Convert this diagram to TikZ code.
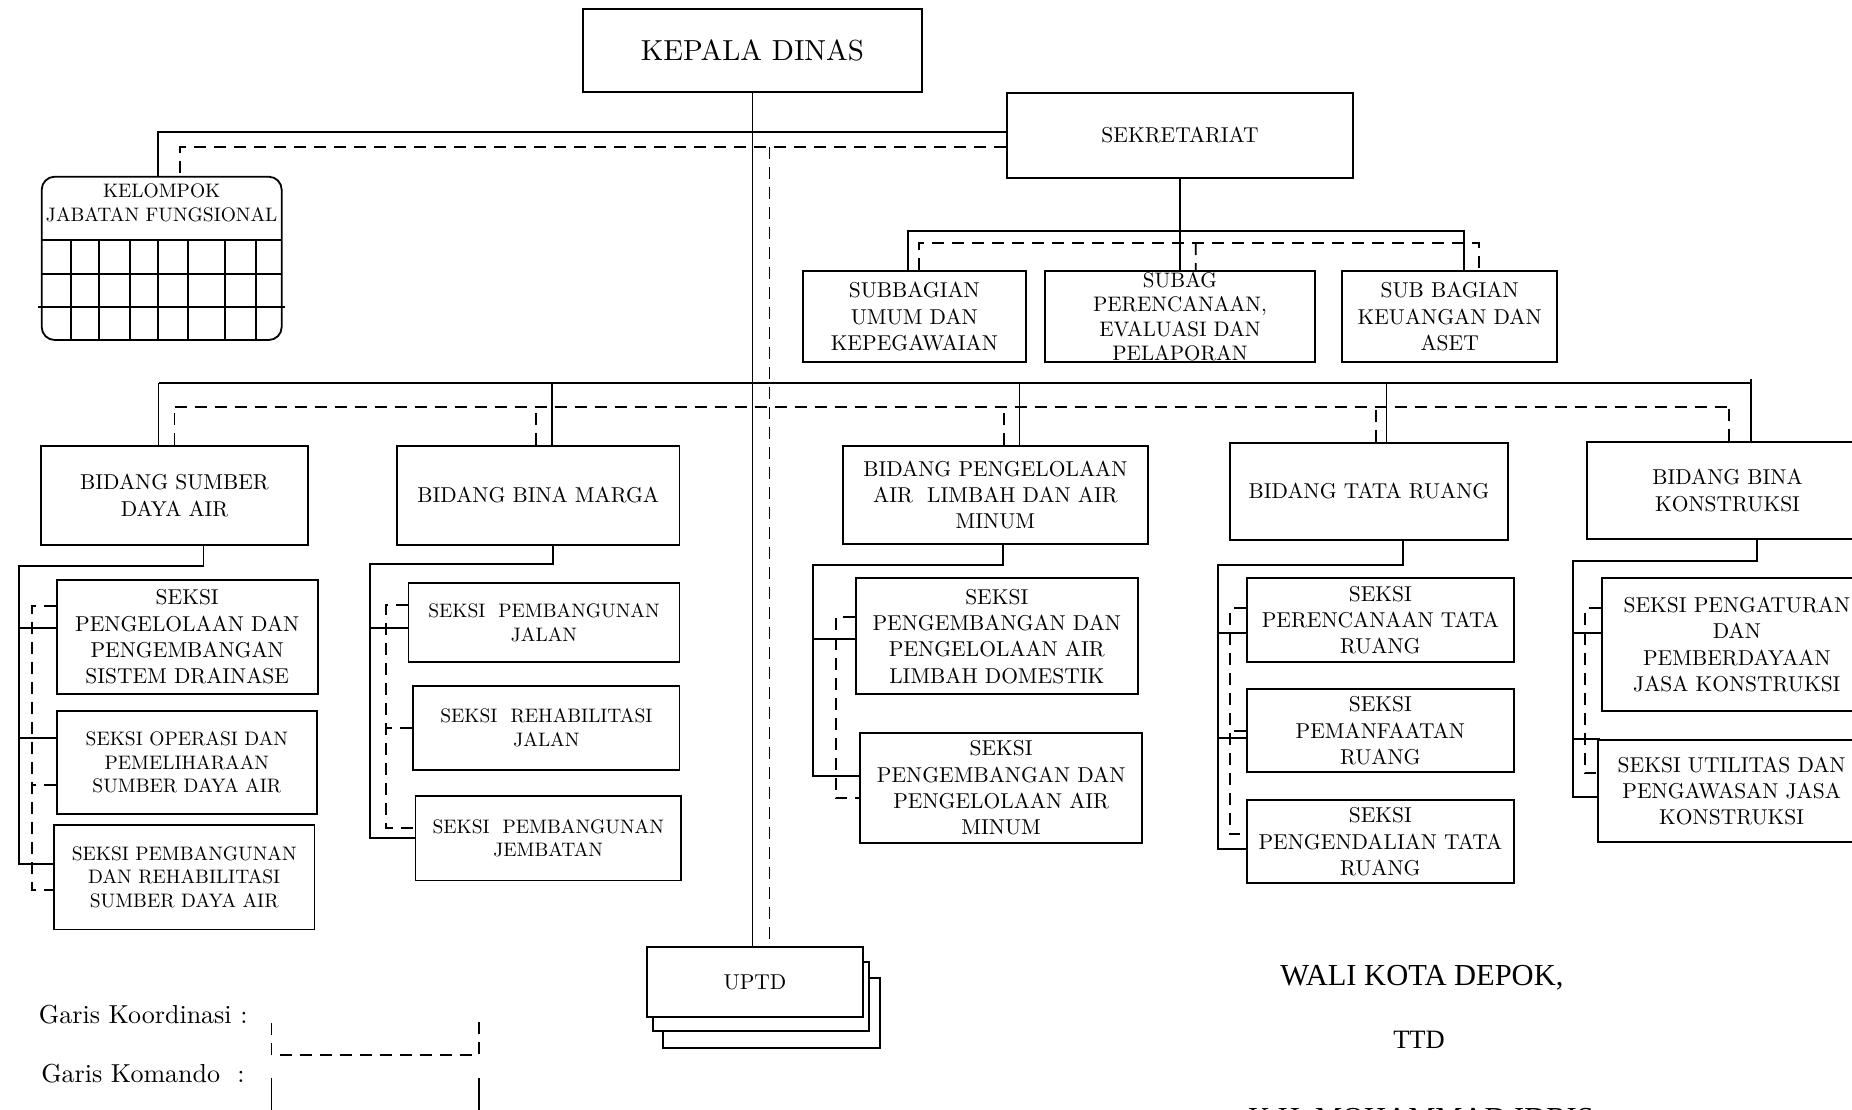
\documentclass[tikz,border=0pt]{standalone}
\usepackage{fontspec}
\setmainfont{lmroman10-regular.otf}
\newfontfamily\ttdfont{Liberation Serif}
\usetikzlibrary{calc}

\begin{document}
\begin{tikzpicture}[x=1pt, y=-1pt, line width=1.8pt,
    box/.style={draw, fill=white, align=center, inner sep=0pt,
        font=\fontsize{21.5}{26.3}\selectfont},
    smallbox/.style={box, font=\fontsize{19.5}{23.5}\selectfont},
    koord/.style={dash pattern=on 12pt off 8pt}]

    \fill[white] (0,0) rectangle (1852,1109);
    \useasboundingbox (0,0) rectangle (1852,1109);
    \clip (0,0) rectangle (1852,1109);

    \node[box, minimum width=339pt, minimum height=83pt, font=\fontsize{29}{34}\selectfont] (kd) at (752.5,50.5) {KEPALA DINAS};
    \node[box, minimum width=346pt, minimum height=85pt] (sek) at (1180,135.5) {SEKRETARIAT};
    \node[draw, rounded corners=13pt, minimum width=240pt, minimum height=163.3pt] (kjf) at (161.7,258.35) {};
    \node[align=center, font=\fontsize{19.5}{23.7}\selectfont] (kjft) at (161.7,203) {KELOMPOK\\JABATAN FUNGSIONAL};
    \foreach \gy in {240,274.3}
        \draw (41.7,\gy) -- (281.7,\gy);
    \draw (38.3,307.3) -- (285,307.3);
    \foreach \gx in {70.7,99.3,130,157.7,188,225,255.7}
        \draw (\gx,240) -- (\gx,340);

    \node[box, minimum width=223.4pt, minimum height=91.3pt] (sb1) at (914.3,316.65) {SUBBAGIAN\\UMUM DAN\\KEPEGAWAIAN};
    \node[box, minimum width=270.7pt, minimum height=91.3pt, font=\fontsize{21}{24.5}\selectfont] (sb2) at (1179.95,316.65) {SUBAG\\PERENCANAAN,\\EVALUASI DAN\\PELAPORAN};
    \node[box, minimum width=215.3pt, minimum height=91.3pt] (sb3) at (1449.65,316.65) {SUB BAGIAN\\KEUANGAN DAN\\ASET};

    \node[box, minimum width=267pt, minimum height=99pt] (bsda) at (174.5,495.5) {BIDANG SUMBER\\DAYA AIR};
    \node[box, minimum width=282.5pt, minimum height=99pt] (bbm) at (538.25,495.5) {BIDANG BINA MARGA};
    \node[box, minimum width=304.8pt, minimum height=98.3pt] (bpal) at (995.4,495.15) {BIDANG PENGELOLAAN\\AIR~~LIMBAH DAN AIR\\MINUM};
    \node[box, minimum width=278pt, minimum height=97.3pt] (btr) at (1369,491.35) {BIDANG TATA RUANG};
    \node[box, minimum width=281.6pt, minimum height=97.6pt] (bbk) at (1727.5,490.5) {BIDANG BINA\\KONSTRUKSI};

    \node[box, minimum width=261pt, minimum height=114pt] (ss1) at (187.2,637) {SEKSI\\PENGELOLAAN DAN\\PENGEMBANGAN\\SISTEM DRAINASE};
    \node[smallbox, minimum width=260.3pt, minimum height=103pt] (ss2) at (186.85,762.5) {SEKSI OPERASI DAN\\PEMELIHARAAN\\SUMBER DAYA AIR};
    \node[smallbox, minimum width=260.5pt, minimum height=104.4pt] (ss3) at (184.25,877.2) {SEKSI PEMBANGUNAN\\DAN REHABILITASI\\SUMBER DAYA AIR};

    \node[smallbox, minimum width=271pt, minimum height=79.6pt] (sm1) at (544,622.5) {SEKSI~~PEMBANGUNAN\\JALAN};
    \node[smallbox, minimum width=266.3pt, minimum height=84pt] (sm2) at (546.4,727.6) {SEKSI~~REHABILITASI\\JALAN};
    \node[smallbox, minimum width=265.5pt, minimum height=84.3pt] (sm3) at (548.25,838.35) {SEKSI~~PEMBANGUNAN\\JEMBATAN};

    \node[box, minimum width=281.6pt, minimum height=116pt] (sp1) at (996.8,636.3) {SEKSI\\PENGEMBANGAN DAN\\PENGELOLAAN AIR\\LIMBAH DOMESTIK};
    \node[box, minimum width=282.3pt, minimum height=109.4pt] (sp2) at (1001.15,788) {SEKSI\\PENGEMBANGAN DAN\\PENGELOLAAN AIR\\MINUM};

    \node[box, minimum width=267.3pt, minimum height=84pt] (st1) at (1380.35,620.3) {SEKSI\\PERENCANAAN TATA\\RUANG};
    \node[box, minimum width=267.3pt, minimum height=83.3pt] (st2) at (1380.35,730.65) {SEKSI\\PEMANFAATAN\\RUANG};
    \node[box, minimum width=267.3pt, minimum height=83.3pt] (st3) at (1380.35,841.65) {SEKSI\\PENGENDALIAN TATA\\RUANG};

    \node[box, minimum width=270.3pt, minimum height=132.4pt] (sk1) at (1736.85,644.5) {SEKSI PENGATURAN\\DAN\\PEMBERDAYAAN\\JASA KONSTRUKSI};
    \node[box, minimum width=266.7pt, minimum height=101.7pt] (sk2) at (1731.65,790.85) {SEKSI UTILITAS DAN\\PENGAWASAN JASA\\KONSTRUKSI};

    \node[box, minimum width=216.6pt, minimum height=69.4pt] (uptd3) at (771.6,1013) {};
    \node[box, minimum width=216.6pt, minimum height=69.4pt] (uptd2) at (761,996.5) {};
    \node[box, minimum width=216.6pt, minimum height=69.4pt] (uptd) at (755,982) {UPTD};

    \coordinate (kbus) at (157.7,131.7);
    \coordinate (kdash) at (180,146.7);
    \coordinate (sbus) at ($(sek.south)+(0,52)$);
    \coordinate (sdash) at ($(sek.south)+(15.7,64.3)$);
    \coordinate (bbus) at (0,383);
    \coordinate (bdash) at (0,407);
    \coordinate (sdal) at (19.3,566);
    \coordinate (sdad) at (32,606);
    \coordinate (bml) at (369.6,564.2);
    \coordinate (bmd) at (385.7,605);
    \coordinate (pall) at (813,565);
    \coordinate (pald) at (835.7,617.3);
    \coordinate (trl) at (1218.3,565);
    \coordinate (trd) at (1230,608.3);
    \coordinate (bkl) at (1573.3,560.7);
    \coordinate (bkd) at (1585,608.3);

    \draw (kd.south) -- (kd.south |- uptd.north);
    \draw[koord] ([xshift=17pt]kd.south |- kdash) -- ([xshift=17pt]kd.south |- uptd.north);
    \draw (sek.west |- kbus) -| (kbus |- kjf.north);
    \draw[koord] (sek.west |- kdash) -| (kdash |- kjf.north);

    \draw (sek.south) -- (sb2.north);
    \draw ([xshift=-6.5pt]sb1.north) |- (sbus) -| ([xshift=14pt]sb3.north);
    \draw[koord] ([xshift=4.5pt]sb1.north) |- (sdash) -| ([xshift=29pt]sb3.north);
    \draw[koord] (sdash) -- ([xshift=15.7pt]sb2.north);

    \draw ([xshift=-16pt]bsda.north |- bbus) -- ([xshift=23.3pt]bbk.north |- bbus);
    \draw ([xshift=23.3pt,yshift=4pt]bbk.north |- bbus) -- ([xshift=23.3pt]bbk.north);
    \foreach \n/\s in {bsda/-16, bbm/14, bpal/24, btr/17.4}
        \draw ([xshift=\s pt]\n.north) -- ([xshift=\s pt]\n.north |- bbus);
    \draw[koord] (bsda.north |- bdash) -- ([xshift=1.5pt]bbk.north |- bdash);
    \foreach \n/\s in {bsda/0, bbm/-2.5, bpal/8.2, btr/7, bbk/1.5}
        \draw[koord] ([xshift=\s pt]\n.north) -- ([xshift=\s pt]\n.north |- bdash);

    \draw ([xshift=29pt]bsda.south) |- (sdal) |- ([yshift=13pt]ss3.west);
    \draw ([yshift=9pt]ss1.west) -- ([yshift=9pt]ss1.west -| sdal);
    \draw ([yshift=24.5pt]ss2.west) -- ([yshift=24.5pt]ss2.west -| sdal);
    \draw[koord] ([yshift=31pt]ss1.west) -- (sdad) |- ([yshift=-12.8pt]ss3.west);
    \draw[koord] ([yshift=-22.5pt]ss2.west) -- ([yshift=-22.5pt]ss2.west -| sdad);

    \draw ([xshift=15pt]bbm.south) |- (bml) |- (sm3.west);
    \draw ([yshift=-5.4pt]sm1.west) -- ([yshift=-5.4pt]sm1.west -| bml);
    \draw[koord] ([yshift=17.5pt]sm1.west) -- (bmd) |- ([yshift=10.7pt]sm3.west);
    \draw[koord] (sm2.west) -- (sm2.west -| bmd);

    \draw ([xshift=7.5pt]bpal.south) |- (pall) |- ([yshift=12pt]sp2.west);
    \draw ([yshift=-2.7pt]sp1.west) -- ([yshift=-2.7pt]sp1.west -| pall);
    \draw[koord] ([yshift=19pt]sp1.west) -- (pald) |- ([yshift=-10.3pt]sp2.west);

    \draw ([xshift=33.7pt]btr.south) |- (trl) |- ([yshift=-7.6pt]st3.west);
    \draw ([yshift=-13pt]st1.west) -- ([yshift=-13pt]st1.west -| trl);
    \draw ([yshift=-7.6pt]st2.west) -- ([yshift=-7.6pt]st2.west -| trl);
    \draw[koord] ([yshift=12pt]st1.west) -- (trd) |- ([yshift=7.3pt]st3.west);
    \draw[koord] (st2.west) -- (st2.west -| trd);

    \draw ([xshift=29.8pt]bbk.south) |- (bkl) |- ([yshift=-6.4pt]sk2.west);
    \draw ([yshift=11.2pt]sk1.west) -- ([yshift=11.2pt]sk1.west -| bkl);
    \draw ([xshift=3pt]sk2.north west) -- (sk2.north west -| bkl);
    \draw[koord] ([yshift=36.2pt]sk1.west) -- (bkd) |- ([yshift=17.5pt]sk2.west);

    \node[anchor=base east, inner sep=0pt, font=\fontsize{26}{30}\selectfont] (lkoord) at (248.5,1023.3) {Garis Koordinasi :};
    \node[anchor=base east, inner sep=0pt, font=\fontsize{26}{30}\selectfont] (lkom) at (245.5,1082.7) {Garis Komando~~:};
    \draw[koord] (271.5,1023) -- (271.5,1055) -- (478.8,1055) -- (478.8,1021.7);
    \draw (271.5,1078.3) -- (271.5,1125) -- (478.8,1125) -- (478.8,1078.3);

    \node[anchor=base, font=\ttdfont\fontsize{30.5}{36}\selectfont] (wali) at (1421.9,985) {WALI KOTA DEPOK,};
    \node[anchor=base, font=\ttdfont\fontsize{26.5}{32}\selectfont] (ttd) at (1419,1048.3) {TTD};
    \node[anchor=base, font=\ttdfont\fontsize{30.5}{36}\selectfont] (nama) at (1421,1128) {K.H. MOHAMMAD IDRIS};
\end{tikzpicture}
\end{document}
